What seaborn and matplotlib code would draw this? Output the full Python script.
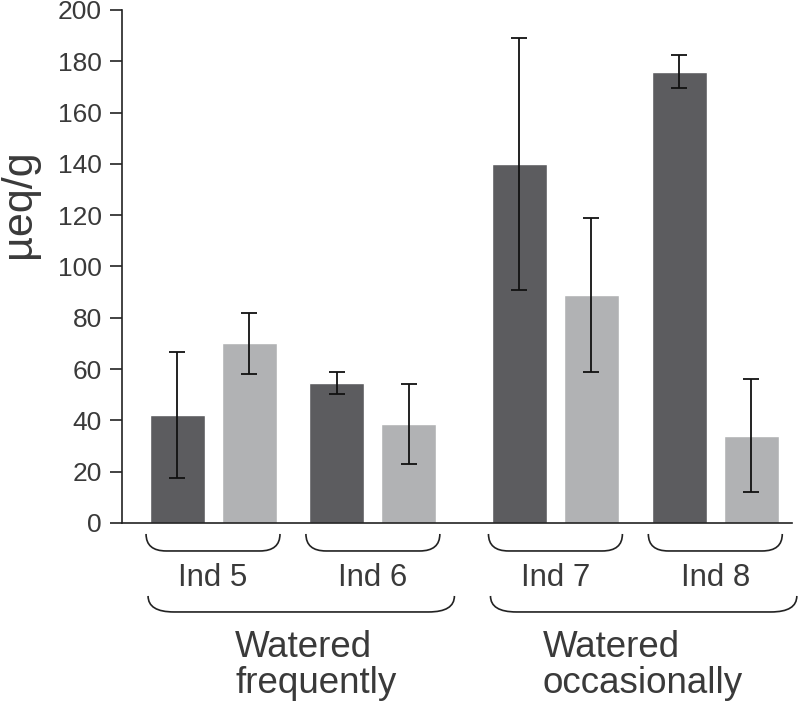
import numpy as np
import pandas as pd
import seaborn as sns
import matplotlib.pyplot as plt
from matplotlib.path import Path
from matplotlib.patches import PathPatch

# data
individuals = ['Ind 5', 'Ind 6', 'Ind 7', 'Ind 8']
treatments = ['Watered\nfrequently', 'Watered\noccasionally']
dark_values = [42, 54.5, 140, 176]
dark_errors = [24.5, 4.3, 49, 6.5]
light_values = [70, 38.5, 89, 34]
light_errors = [12, 15.5, 30, 22]

dark_color = '#5b5c60'
light_color = '#b1b2b4'
text_color = '#3a3a3a'

sns.set_style('white')
plt.rcParams['font.family'] = ['Liberation Sans', 'DejaVu Sans']

# layout: bar step 1, pairs 2.22 apart, extra gap between the two treatments
pair_step = 2.22
group_gap = 0.315
bar_width = 0.764
pair_centers = []
for i in range(len(individuals)):
    pair_centers.append(0.5 + i * pair_step + (i // 2) * group_gap)

rows = []
for i, ind in enumerate(individuals):
    rows.append({'pos': pair_centers[i] - 0.5, 'value': dark_values[i],
                 'err': dark_errors[i], 'shade': 'dark'})
    rows.append({'pos': pair_centers[i] + 0.5, 'value': light_values[i],
                 'err': light_errors[i], 'shade': 'light'})
df = pd.DataFrame(rows)

fig = plt.figure(figsize=(8, 7.07), dpi=100)
ax = fig.add_axes([0.1525, 0.2603, 0.8375, 0.7256])

sns.barplot(data=df, x='pos', y='value', hue='shade', native_scale=True,
            dodge=False, width=bar_width, palette={'dark': dark_color, 'light': light_color},
            errorbar=None, legend=False, ax=ax)
ax.errorbar(df['pos'], df['value'], yerr=df['err'], fmt='none', ecolor='#111111',
            elinewidth=1.3, capsize=5.5, capthick=1.3)

ax.set_ylim(0, 200)
ax.set_yticks(np.arange(0, 201, 20))
ax.set_xlim(-0.764, 8.54)
ax.set_xticks([])
ax.set_xlabel('')
ax.set_ylabel('')
for s in ['top', 'right']:
    ax.spines[s].set_visible(False)
for s in ['left', 'bottom']:
    ax.spines[s].set_color('#222222')
    ax.spines[s].set_linewidth(1.2)
ax.tick_params(axis='y', direction='out', length=8.5, width=1.2, color='#222222',
               pad=6, labelsize=19, labelcolor=text_color, left=True)

fig.text(0.024, 1 - 204 / 707, 'µeq/g', rotation=90, ha='center', va='center',
         fontsize=31, color=text_color)

trans = ax.get_xaxis_transform()
ax_h = 513.0


def yfrac(px):
    return -(px - 523) / ax_h


def bracket(x0, x1, ytop, ybot, r):
    verts = [(x0, ytop), (x0, ybot), (x0 + r, ybot), (x1 - r, ybot),
             (x1, ybot), (x1, ytop)]
    codes = [Path.MOVETO, Path.CURVE3, Path.CURVE3, Path.LINETO,
             Path.CURVE3, Path.CURVE3]
    patch = PathPatch(Path(verts, codes), transform=trans, fill=False,
                      edgecolor='#222222', lw=1.2, clip_on=False)
    ax.add_patch(patch)


for i, ind in enumerate(individuals):
    c = pair_centers[i]
    bracket(c - 0.93, c + 0.93, yfrac(534), yfrac(551), 0.28)
    ax.text(c, yfrac(586), ind, transform=trans, ha='center', va='baseline',
            fontsize=22.5, color=text_color)

for g, label in enumerate(treatments):
    left = pair_centers[2 * g] - 0.5 - bar_width / 2 - 0.02
    right = pair_centers[2 * g + 1] + 0.5 + bar_width / 2 + 0.25
    bracket(left, right, yfrac(596), yfrac(612), 0.36)
    first, second = label.split('\n')
    text_left = [0.806, 5.08][g]
    ax.text(text_left, yfrac(657), first, transform=trans, ha='left', va='baseline',
            fontsize=26.5, color=text_color)
    ax.text(text_left, yfrac(693), second, transform=trans, ha='left', va='baseline',
            fontsize=26.5, color=text_color)

fig.savefig('out.png', dpi=100)
